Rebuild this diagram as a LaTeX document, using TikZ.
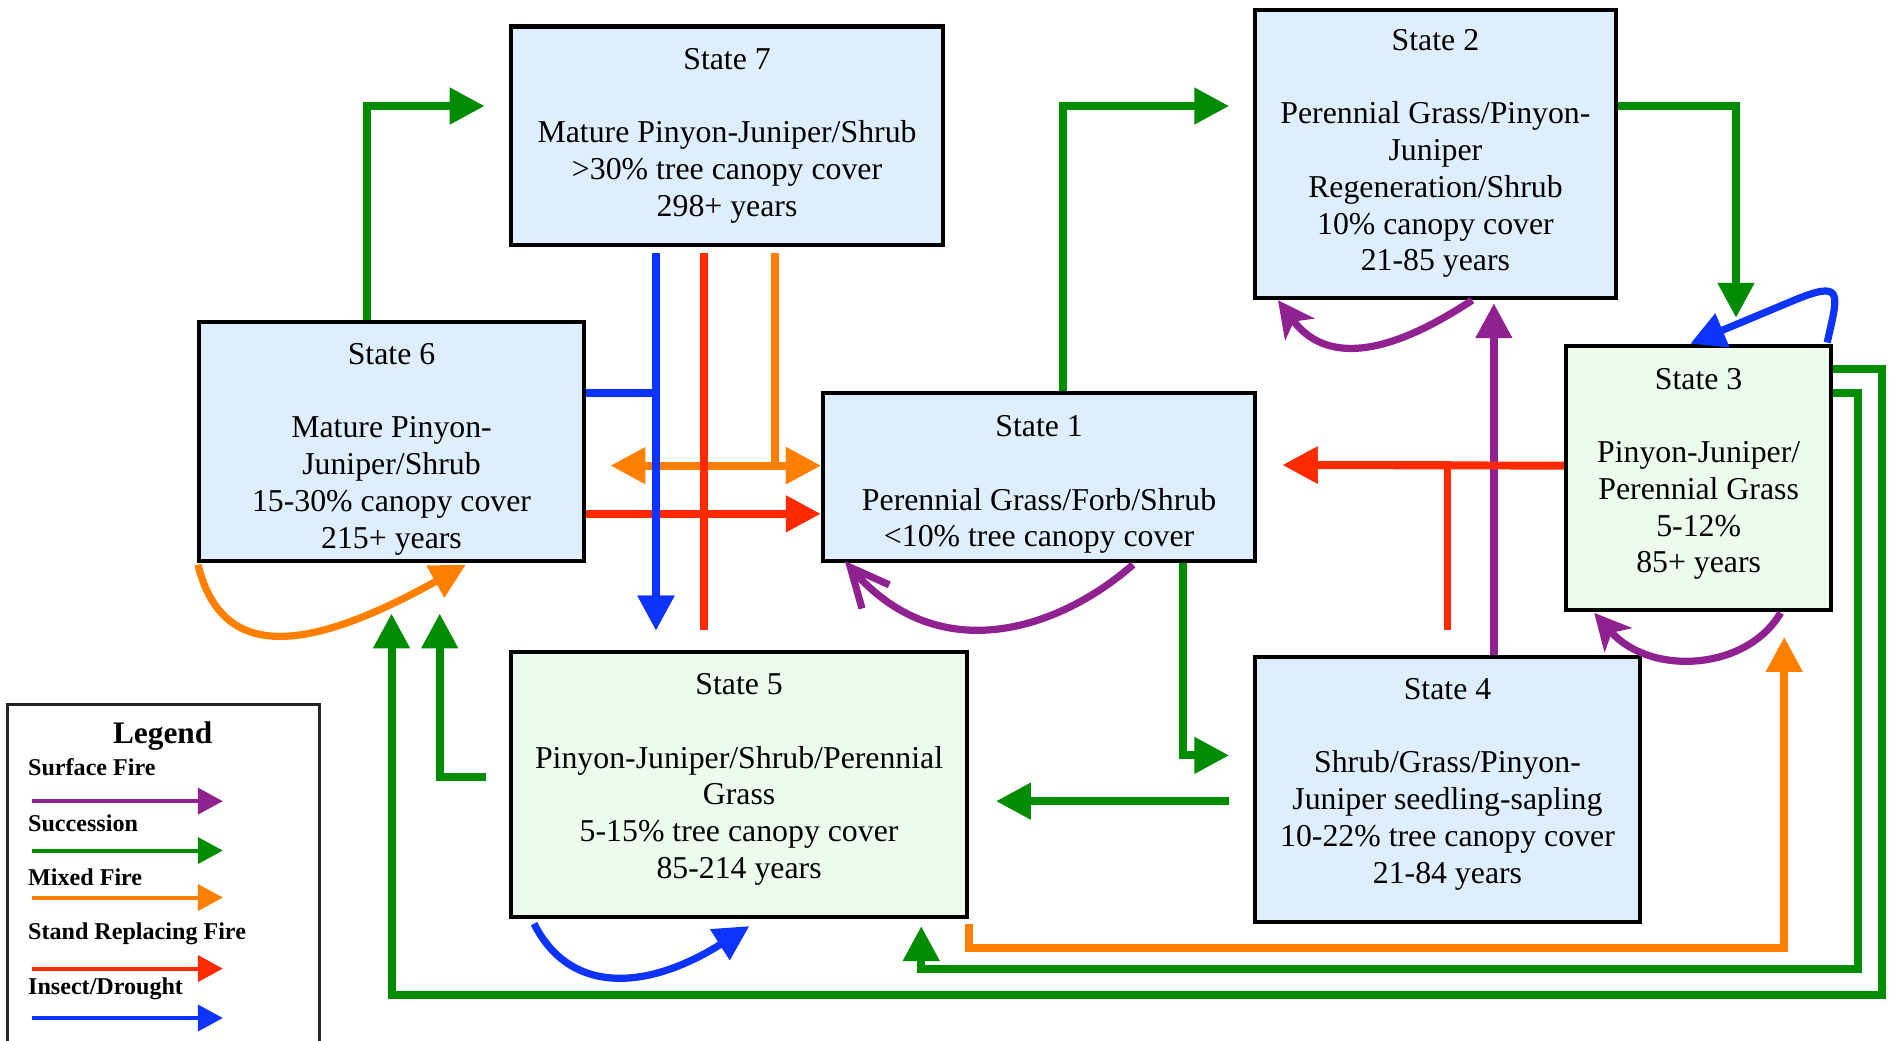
\documentclass[tikz,border=0pt]{standalone}
\usepackage{fontspec}
\setmainfont{Liberation Serif}
\usetikzlibrary{arrows.meta, positioning, calc}

\definecolor{stateblue}{HTML}{DFEEFD}
\definecolor{stategreen}{HTML}{EDFBEE}
\definecolor{surfpurple}{HTML}{902190}
\definecolor{succgreen}{HTML}{008C00}
\definecolor{mixedorange}{HTML}{FF7F00}
\definecolor{srfred}{HTML}{FF2A00}
\definecolor{insectblue}{HTML}{0D33FF}

\tikzset{
    statebox/.style = {draw, line width=1.7pt, rectangle, align=center, inner sep=0pt, font=\fontsize{13.2}{15.25}\selectfont},
    flow/.style = {line width=3.3pt, -{Triangle[length=14.5pt, width=14.5pt]}},
    succflow/.style = {flow, draw=succgreen},
    surfflow/.style = {flow, draw=surfpurple},
    mixedflow/.style = {flow, draw=mixedorange},
    srfflow/.style = {flow, draw=srfred},
    insectflow/.style = {flow, draw=insectblue},
    loopflow/.style = {line width=3pt},
    legflow/.style = {line width=1.66pt, -{Triangle[length=10.4pt, width=10.8pt]}}
}

\begin{document}
\begin{tikzpicture}[x=0.5pt, y=-0.5pt]
    \useasboundingbox (0,0) rectangle (1568,864);

    % States
    \node[statebox, fill=stateblue, minimum width=179.5pt, minimum height=90.5pt] (s7) at (603.5,112.5)
        {State 7\\[15.25pt]Mature Pinyon-Juniper/Shrub\\>30\% tree canopy cover\\298+ years};
    \node[statebox, fill=stateblue, minimum width=160pt, minimum height=99.5pt] (s6) at (325,366.5)
        {\rule{0pt}{15pt}State 6\\[15.25pt]Mature Pinyon-\\Juniper/Shrub\\15-30\% canopy cover\\215+ years};
    \node[statebox, fill=stateblue, minimum width=179.5pt, minimum height=70pt] (s1) at (862.5,396)
        {\rule{0pt}{15pt}State 1\\[15.25pt]Perennial Grass/Forb/Shrub\\<10\% tree canopy cover};
    \node[statebox, fill=stateblue, minimum width=149.5pt, minimum height=119.5pt] (s2) at (1191.5,127.5)
        {State 2\\[15.25pt]Perennial Grass/Pinyon-\\Juniper\\Regeneration/Shrub\\10\% canopy cover\\21-85 years};
    \node[statebox, fill=stategreen, minimum width=110pt, minimum height=109.5pt] (s3) at (1410,396.5)
        {State 3\\[15.25pt]Pinyon-Juniper/\\Perennial Grass\\5-12\%\\85+ years\rule[-6pt]{0pt}{6pt}};
    \node[statebox, fill=stategreen, minimum width=189.5pt, minimum height=110pt] (s5) at (613.5,651)
        {State 5\\[15.25pt]Pinyon-Juniper/Shrub/Perennial\\Grass\\5-15\% tree canopy cover\\85-214 years\rule[-7pt]{0pt}{7pt}};
    \node[statebox, fill=stateblue, minimum width=159.5pt, minimum height=110pt] (s4) at (1201.5,655)
        {State 4\\[15.25pt]Shrub/Grass/Pinyon-\\Juniper seedling-sapling\\10-22\% tree canopy cover\\21-84 years\rule[-7pt]{0pt}{7pt}};

    % Succession
    \draw[succflow] ($(s6.north)+(-20,0)$) |- ($(s7.west)+(-20,-24.5)$);
    \draw[succflow] ($(s1.north)+(19.5,0)$) |- ($(s2.west)+(-20,-39.5)$);
    \draw[succflow] ($(s2.east)+(0,-39.5)$) -| ($(s3.north)+(31,-21.5)$);
    \draw[succflow] ($(s1.south)+(119.5,0)$) |- ($(s4.west)+(-20,-28)$);
    \draw[succflow] ($(s4.west)+(-20,10)$) -- ($(s5.east)+(22,14)$);
    \draw[succflow] ($(s5.west)+(-19,-6)$) -| ($(s6.south)+(40,41.5)$);
    \draw[succflow] ($(s3.east)+(0,-70)$) -- ++(20.6,0) |- ($(s5.south east)+(-40,42)$) -- ($(s5.south east)+(-40,6)$);
    \draw[succflow] ($(s3.east)+(0,-90)$) -- ++(40.6,0) |- ($(s6.south)+(0,358)$) -- ($(s6.south)+(0,41.5)$);

    % Surface fire
    \draw[surfflow] ($(s4.north)+(38.5,0)$) -- ($(s2.south)+(48.5,3)$);
    \draw[loopflow, draw=surfpurple, -{Straight Barb[length=16pt, width=15pt]}]
        ($(s1.south)+(78,1)$) .. controls ($(s1.south)+(17.5,54)$) and ($(s1.south)+(-82.5,89)$) .. ($(s1.south west)+(20,-2)$);
    \draw[loopflow, draw=surfpurple, -{Stealth[length=15pt, width=15pt, inset=4pt]}]
        ($(s2.south)+(30.5,0.5)$) .. controls ($(s2.south)+(-41.5,48)$) and ($(s2.south)+(-91.5,53)$) .. ($(s2.south west)+(20.5,0.5)$);
    \draw[loopflow, draw=surfpurple, -{Stealth[length=15pt, width=15pt, inset=4pt]}]
        ($(s3.south)+(68,1)$) .. controls ($(s3.south)+(40,49)$) and ($(s3.south)+(-40,54)$) .. ($(s3.south west)+(25,1)$);

    % Mixed fire
    \draw[mixedflow, {Triangle[length=14.5pt, width=14.5pt]}-{Triangle[length=14.5pt, width=14.5pt]}]
        ($(s6.east)+(20,20)$) -- ($(s1.west)+(0,-9.5)$);
    \draw[mixedflow] ($(s7.south)+(40,5)$) |- ($(s1.west)+(0,-9.5)$);
    \draw[mixedflow] ($(s5.south east)+(0,4)$) -- ++(0,20) -| ($(s3.south)+(71,21)$);
    \draw[loopflow, draw=mixedorange, -{Triangle[length=14.5pt, width=14.5pt]}]
        ($(s6.south west)+(1,1)$) .. controls ($(s6.south west)+(20,78)$) and ($(s6.south west)+(85,78)$) .. ($(s6.south east)+(-100,1)$);

    % Stand replacing fire
    \draw[srfflow] ($(s6.east)+(0,60)$) -- ($(s1.west)+(0,30.5)$);
    \draw[srfflow] ($(s3.west)+(0,-10)$) -- ($(s1.east)+(21,-10)$);
    \draw[srfflow] ($(s4.north)+(0,-20)$) |- ($(s1.east)+(21,-10)$);

    % Insect/Drought
    \draw[insectflow] ($(s6.east)+(0,-40.5)$) -| ($(s5.north)+(-69,-16)$);
    \draw[insectflow] ($(s7.south)+(-59,5)$) -- ($(s5.north)+(-69,-16)$);
    \draw[srfflow, -] ($(s7.south)+(-19,5)$) -- ($(s5.north)+(-29,-16)$);
    \draw[loopflow, draw=insectblue, -{Triangle[length=14.5pt, width=14.5pt]}]
        ($(s3.north east)+(-5,-1)$) .. controls ($(s3.north east)+(4,-42)$) and ($(s3.north east)+(10,-54)$) .. ($(s3.north east)+(-35,-35)$) -- ($(s3.north)+(-7,0)$);
    \draw[loopflow, draw=insectblue, -{Triangle[length=14.5pt, width=14.5pt]}]
        ($(s5.south west)+(21,4)$) .. controls ($(s5.south west)+(51,64)$) and ($(s5.south west)+(116,59)$) .. ($(s5.south)+(8.5,6)$);

    % Legend
    \node[draw=black!85, line width=1.2pt, minimum width=129.5pt, minimum height=142.5pt, inner sep=0pt] (legend) at (135.5,727.5) {};
    \node[font=\bfseries\fontsize{13}{15}\selectfont] (legtitle) at (135,611) {Legend};
    \foreach \name/\lab/\col/\ly/\ay in {lsurf/Surface Fire/surfpurple/637/665, lsucc/Succession/succgreen/683/706,
        lmixed/Mixed Fire/mixedorange/728/745, lsrf/Stand Replacing Fire/srfred/775/804, linsect/{Insect/Drought}/insectblue/821/845} {
        \node[anchor=west, inner sep=0pt, font=\bfseries\fontsize{10}{12}\selectfont] (\name) at (23,\ly) {\lab};
        \draw[legflow, draw=\col] ($(\name.west)+(3.5,\ay-\ly)$) -- ++(158.5,0);
    }

\end{tikzpicture}
\end{document}
